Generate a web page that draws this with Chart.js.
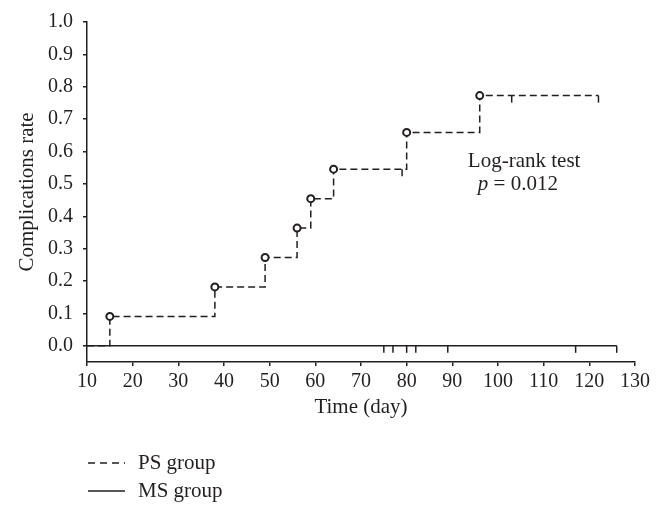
<!DOCTYPE html>
<html>
<head>
<meta charset="utf-8">
<script src="https://cdn.jsdelivr.net/npm/chart.js@4.4.1/dist/chart.umd.min.js"></script>
<style>
  html, body { margin: 0; padding: 0; background: #ffffff; }
  #wrap { position: relative; width: 665px; height: 514px; }
</style>
</head>
<body>
<div id="wrap"><canvas id="c" width="665" height="514"></canvas></div>
<script>
// ---- data ----
const psEventDays   = [10, 15, 38, 49, 56, 59, 64, 80, 96, 122];
const psEventRates  = [0, 0.0909, 0.1818, 0.2727, 0.3636, 0.4545, 0.5455, 0.6591, 0.7727, 0.7727];
const psCensorDays  = [79, 103, 122];
const psCensorRates = [0.5455, 0.7727, 0.7727];
const msDays        = [10, 126];
const msRates       = [0, 0];
const msCensorDays  = [75, 77, 80, 82, 89, 117, 126];
const msCensorRates = [0, 0, 0, 0, 0, 0, 0];
const xTickValues   = [10, 20, 30, 40, 50, 60, 70, 80, 90, 100, 110, 120, 130];
const yTickValues   = [0, 0.1, 0.2, 0.3, 0.4, 0.5, 0.6, 0.7, 0.8, 0.9, 1.0];
const seriesNames   = ['PS group', 'MS group'];
const annotationLines = ['Log-rank test', 'p = 0.012'];

const INK = '#231f20';
const FONT = '"Liberation Serif", "Times New Roman", serif';

const toPts = (xs, ys) => xs.map((x, i) => ({ x: x, y: ys[i] }));

const psPts = toPts(psEventDays, psEventRates);
const lastIdx = psPts.length - 1;

const extras = {
  id: 'extras',
  afterDraw(chart) {
    const ctx = chart.ctx;
    const xs = chart.scales.x, ys = chart.scales.y;
    ctx.save();
    ctx.fillStyle = INK;
    ctx.textBaseline = 'alphabetic';
    // annotation
    ctx.font = '21px ' + FONT;
    const ax = xs.getPixelForValue(93.4);
    ctx.fillText(annotationLines[0], ax, ys.getPixelForValue(0.552));
    const px = ax + 10;
    const py = ys.getPixelForValue(0.481);
    ctx.font = 'italic 21px ' + FONT;
    ctx.fillText('p', px, py);
    const pw = ctx.measureText('p').width;
    ctx.font = '21px ' + FONT;
    ctx.fillText(annotationLines[1].slice(1), px + pw, py);
    // legend
    ctx.strokeStyle = INK;
    ctx.lineWidth = 1.5;
    ctx.setLineDash([7, 5]);
    ctx.beginPath(); ctx.moveTo(88, 463); ctx.lineTo(125, 463); ctx.stroke();
    ctx.setLineDash([]);
    ctx.beginPath(); ctx.moveTo(88, 491); ctx.lineTo(125, 491); ctx.stroke();
    ctx.font = '21px ' + FONT;
    ctx.fillText(seriesNames[0], 138, 469);
    ctx.fillText(seriesNames[1], 138, 497);
    ctx.restore();
  }
};

new Chart(document.getElementById('c'), {
  type: 'scatter',
  data: {
    datasets: [
      {
        label: seriesNames[1],
        data: toPts(msDays, msRates),
        showLine: true,
        borderColor: INK,
        borderWidth: 1.5,
        pointRadius: 0,
        order: 3
      },
      {
        label: seriesNames[1] + ' censored',
        data: toPts(msCensorDays, msCensorRates),
        showLine: false,
        pointStyle: 'dash',
        rotation: 90,
        pointRadius: 7,
        borderColor: INK,
        borderWidth: 1.5,
        order: 2
      },
      {
        label: seriesNames[0],
        data: psPts,
        showLine: true,
        stepped: 'before',
        borderColor: INK,
        borderWidth: 1.5,
        borderDash: [7, 4],
        pointStyle: 'circle',
        pointRadius: psPts.map((p, i) => (i === 0 || i === lastIdx) ? 0 : 3.5),
        pointBorderWidth: 2,
        pointBackgroundColor: '#ffffff',
        pointBorderColor: INK,
        order: 1
      },
      {
        label: seriesNames[0] + ' censored',
        data: toPts(psCensorDays, psCensorRates),
        showLine: false,
        pointStyle: 'dash',
        rotation: 90,
        pointRadius: 7,
        borderColor: INK,
        borderWidth: 1.5,
        order: 0
      }
    ]
  },
  options: {
    responsive: false,
    animation: false,
    devicePixelRatio: 1,
    layout: { padding: { left: 0, right: 30, top: 21, bottom: 94 } },
    plugins: {
      legend: { display: false },
      tooltip: { enabled: false }
    },
    scales: {
      x: {
        type: 'linear',
        min: 10,
        max: 130,
        afterFit: s => { s.height = 58; },
        afterBuildTicks: s => { s.ticks = xTickValues.map(v => ({ value: v })); },
        grid: { display: true, drawOnChartArea: false, drawTicks: true, tickLength: 4, color: INK, lineWidth: 1.5 },
        border: { display: true, color: INK, width: 1.5 },
        ticks: { color: INK, font: { family: FONT, size: 20 }, padding: 4, maxRotation: 0, autoSkip: false },
        title: { display: true, text: 'Time (day)', color: INK, font: { family: FONT, size: 21 }, padding: { top: 0, bottom: 0 } }
      },
      y: {
        type: 'linear',
        min: -0.05,
        max: 1.0,
        afterFit: s => { s.width = 87; },
        afterBuildTicks: s => { s.ticks = yTickValues.map(v => ({ value: v })); },
        grid: { display: true, drawOnChartArea: false, drawTicks: true, tickLength: 4, color: INK, lineWidth: 1.5 },
        border: { display: true, color: INK, width: 1.5 },
        ticks: { color: INK, font: { family: FONT, size: 20 }, padding: 10, callback: v => Number(v).toFixed(1) },
        title: { display: true, text: 'Complications rate', color: INK, font: { family: FONT, size: 21 }, padding: { top: 15, bottom: 0 } }
      }
    }
  },
  plugins: [extras]
});
</script>
</body>
</html>
